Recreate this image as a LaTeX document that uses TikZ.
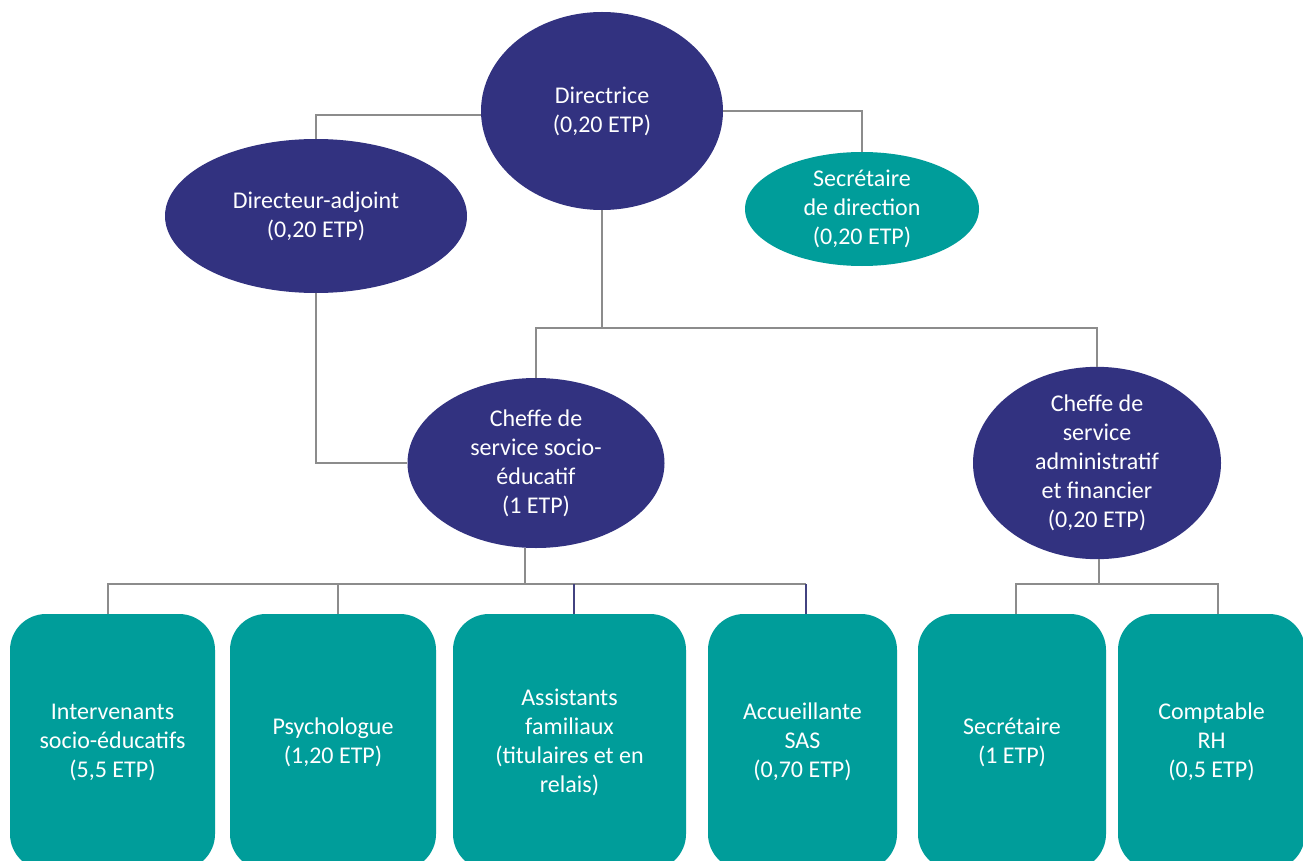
\documentclass[tikz,border=0pt]{standalone}
\usepackage{fontspec}
\setmainfont{Carlito}
\usetikzlibrary{shapes.geometric}
\definecolor{navy}{RGB}{50,50,128}
\definecolor{teal2}{RGB}{0,157,154}
\definecolor{linegray}{RGB}{140,140,140}
\tikzset{
  oval/.style={ellipse, fill=navy, draw=none, inner sep=0pt, text=white, align=center,
    font=\fontsize{24}{29}\selectfont},
  tealoval/.style={oval, fill=teal2},
  card/.style={rectangle, rounded corners=36pt, fill=teal2, draw=none, inner sep=0pt,
    text=white, align=center, font=\fontsize{24}{29}\selectfont, minimum height=256pt},
  conn/.style={draw=linegray, line width=1.4pt},
  connb/.style={draw=navy!80!gray, line width=1.4pt}
}
\begin{document}
\begin{tikzpicture}[x=1pt,y=-1pt]
\clip (0,0) rectangle (1303,861);
\fill[white] (0,0) rectangle (1303,861);
% ellipses
\node[oval, minimum width=242pt, minimum height=198pt] (dir) at (602,111) {Directrice\\(0,20 ETP)};
\node[oval, minimum width=302pt, minimum height=154pt] (adj) at (316,216) {Directeur-adjoint\\(0,20 ETP)};
\node[tealoval, minimum width=234pt, minimum height=114pt] (sec) at (862,209) {Secrétaire\\de direction\\(0,20 ETP)};
\node[oval, minimum width=257pt, minimum height=170pt] (cs) at (536,463) {Cheffe de\\service socio-\\éducatif\\(1 ETP)};
\node[oval, minimum width=248pt, minimum height=170pt] (ca) at (1097,463) {Cheffe de\\service\\administratif\\et financier\\(0,20 ETP)};
% boxes
\node[card, minimum width=205pt] (b1) at (112.5,742) {Intervenants\\socio-éducatifs\\(5,5 ETP)};
\node[card, minimum width=206pt] (b2) at (333,742) {Psychologue\\(1,20 ETP)};
\node[card, minimum width=233pt] (b3) at (569.5,742) {Assistants\\familiaux\\(titulaires et en\\relais)};
\node[card, minimum width=189pt] (b4) at (802.5,742) {Accueillante\\SAS\\(0,70 ETP)};
\node[card, minimum width=188pt] (b5) at (1012,742) {Secrétaire\\(1 ETP)};
\node[card, minimum width=187pt] (b6) at (1211.5,742) {Comptable\\RH\\(0,5 ETP)};
% bus coordinates
\coordinate (busTop) at (602,328);
\coordinate (busA) at (525,584);
\coordinate (busB) at (1099,584);
\coordinate (t1) at ([xshift=-4.5pt]b1.north);
\coordinate (t2) at ([xshift=5pt]b2.north);
\coordinate (t3) at ([xshift=4.5pt]b3.north);
\coordinate (t4) at ([xshift=3.5pt]b4.north);
\coordinate (t5) at ([xshift=4pt]b5.north);
\coordinate (t6) at ([xshift=6.5pt]b6.north);
% connectors
\draw[conn] ([yshift=-4pt]dir.west) -| (adj.north);
\draw[conn] (dir.east) -| (sec.north);
\draw[conn] (dir.south) -- (busTop);
\draw[conn] (cs.north) |- (busTop) -| (ca.north);
\draw[conn] (adj.south) |- (cs.west);
\draw[conn] (cs.south -| busA) -- (busA);
\draw[conn] (t1) -- (t1 |- busA) -- (t4 |- busA);
\draw[conn] (t2) -- (t2 |- busA);
\draw[connb] (t3) -- (t3 |- busA);
\draw[connb] (t4) -- (t4 |- busA);
\draw[conn] (ca.south -| busB) -- (busB);
\draw[conn] (t5) |- (busB) -| (t6);
\end{tikzpicture}
\end{document}
